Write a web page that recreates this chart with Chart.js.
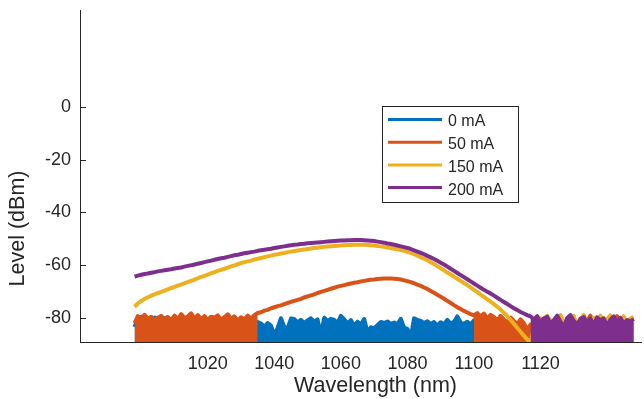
<!DOCTYPE html>
<html>
<head>
<meta charset="utf-8">
<script src="https://cdn.jsdelivr.net/npm/chart.js@4/dist/chart.umd.min.js"></script>
<style>
  html, body { margin: 0; padding: 0; background: #fff; }
</style>
</head>
<body>
<canvas id="spectrum" width="644" height="399"></canvas>
<script>
// Optical spectra at four pump currents, 1 nm sampling
const wavelengths = [
  998, 999, 1000, 1001, 1002, 1003, 1004, 1005, 1006, 1007,
  1008, 1009, 1010, 1011, 1012, 1013, 1014, 1015, 1016, 1017,
  1018, 1019, 1020, 1021, 1022, 1023, 1024, 1025, 1026, 1027,
  1028, 1029, 1030, 1031, 1032, 1033, 1034, 1035, 1036, 1037,
  1038, 1039, 1040, 1041, 1042, 1043, 1044, 1045, 1046, 1047,
  1048, 1049, 1050, 1051, 1052, 1053, 1054, 1055, 1056, 1057,
  1058, 1059, 1060, 1061, 1062, 1063, 1064, 1065, 1066, 1067,
  1068, 1069, 1070, 1071, 1072, 1073, 1074, 1075, 1076, 1077,
  1078, 1079, 1080, 1081, 1082, 1083, 1084, 1085, 1086, 1087,
  1088, 1089, 1090, 1091, 1092, 1093, 1094, 1095, 1096, 1097,
  1098, 1099, 1100, 1101, 1102, 1103, 1104, 1105, 1106, 1107,
  1108, 1109, 1110, 1111, 1112, 1113, 1114, 1115, 1116, 1117,
  1118, 1119, 1120, 1121, 1122, 1123, 1124, 1125, 1126, 1127,
  1128, 1129, 1130, 1131, 1132, 1133, 1134, 1135, 1136, 1137,
  1138, 1139, 1140, 1141, 1142, 1143, 1144, 1145, 1146, 1147,
  1148
];

const level0mA = [
  -83.5, -80.2, -79.6, -80.8, -80.0, -81.2, -79.9, -80.6, -81.5, -80.3,
  -79.8, -81.0, -80.5, -81.8, -79.4, -80.9, -80.2, -79.5, -81.3, -80.0,
  -80.7, -81.6, -80.4, -81.2, -80.6, -81.9, -81.0, -82.2, -80.8, -81.5,
  -82.4, -81.0, -81.8, -82.6, -81.4, -81.9, -82.8, -81.6, -82.2, -83.4,
  -82.0, -83.0, -86.5, -83.8, -80.2, -83.5, -84.0, -80.3, -80.5, -81.8,
  -80.8, -82.0, -81.0, -80.2, -81.5, -80.6, -86.5, -80.0, -81.3, -80.4,
  -80.8, -82.0, -79.3, -80.6, -82.2, -80.9, -83.0, -81.5, -82.6, -80.5,
  -85.5, -83.6, -84.0, -82.8, -81.6, -82.0, -81.4, -82.3, -81.8, -82.6,
  -80.4, -83.8, -84.2, -87.5, -80.2, -80.8, -81.2, -82.0, -81.3, -82.4,
  -81.6, -83.0, -81.7, -82.5, -80.8, -82.2, -81.5, -79.5, -81.8, -82.4,
  -81.5, -82.6, -81.0, -82.2, -83.0, -82.4, -83.5, -82.8, -84.0, -83.2,
  -84.4, -83.6, -84.2, -83.0, -84.6, -83.8, -84.0, -83.3, -84.5, -83.7,
  -84.8, -83.9, -84.3, -83.6, -84.9, -84.0, -83.4, -84.7, -83.8, -84.2,
  -83.5, -84.6, -83.9, -84.4, -83.7, -84.8, -84.0, -83.6, -84.5, -83.8,
  -84.2, -83.5, -84.6, -83.9, -84.3, -83.7, -84.8, -84.1, -83.6, -84.4,
  -84.0
];

const level50mA = [
  -82.0, -79.4, -80.2, -78.9, -80.5, -79.6, -80.8, -80.0, -79.3, -80.6,
  -79.8, -80.9, -79.2, -80.4, -78.6, -80.1, -79.5, -78.3, -80.2, -79.0,
  -80.5, -79.4, -80.8, -79.6, -80.0, -79.1, -80.7, -79.7, -78.7, -80.3,
  -79.5, -81.0, -79.8, -80.6, -79.2, -80.4, -79.0, -78.2, -77.9, -77.3,
  -77.0, -76.4, -76.0, -75.6, -75.3, -74.8, -74.4, -74.0, -73.6, -73.2,
  -72.8, -72.3, -71.9, -71.5, -71.1, -70.6, -70.2, -69.8, -69.4, -69.0,
  -68.6, -68.2, -67.9, -67.6, -67.3, -67.0, -66.7, -66.5, -66.2, -66.0,
  -65.8, -65.6, -65.5, -65.3, -65.2, -65.1, -65.1, -65.1, -65.2, -65.3,
  -65.5, -65.8, -66.1, -66.5, -66.9, -67.4, -67.9, -68.5, -69.1, -69.8,
  -70.5, -71.3, -72.0, -72.8, -73.6, -74.4, -75.2, -76.0, -76.7, -77.4,
  -78.0, -78.6, -79.1, -78.2, -79.6, -78.4, -80.2, -78.9, -79.7, -81.0,
  -79.3, -80.6, -81.8, -79.9, -81.2, -82.4, -80.6, -82.0, -84.5, -82.6,
  -81.8, -82.9, -81.4, -83.0, -81.7, -82.5, -81.9, -83.2, -82.0, -81.6,
  -82.8, -81.5, -82.7, -81.8, -83.1, -82.2, -81.3, -79.2, -82.6, -81.9,
  -82.8, -81.6, -82.4, -83.0, -81.7, -79.4, -82.5, -81.8, -82.9, -82.1,
  -82.6
];

const level150mA = [
  -75.8, -74.6, -73.6, -72.9, -72.2, -71.6, -71.1, -70.6, -70.2, -69.7,
  -69.2, -68.7, -68.3, -67.8, -67.4, -66.9, -66.5, -66.0, -65.5, -65.0,
  -64.5, -64.1, -63.6, -63.1, -62.7, -62.2, -61.8, -61.4, -61.0, -60.5,
  -60.1, -59.7, -59.3, -58.9, -58.6, -58.3, -57.9, -57.6, -57.3, -57.0,
  -56.7, -56.4, -56.1, -55.9, -55.6, -55.4, -55.1, -54.9, -54.7, -54.5,
  -54.3, -54.1, -53.9, -53.7, -53.5, -53.4, -53.2, -53.1, -53.0, -52.9,
  -52.8, -52.7, -52.6, -52.5, -52.4, -52.4, -52.3, -52.3, -52.3, -52.3,
  -52.4, -52.5, -52.6, -52.8, -52.9, -53.1, -53.3, -53.5, -53.8, -54.0,
  -54.3, -54.6, -55.0, -55.4, -55.9, -56.4, -57.0, -57.6, -58.2, -58.9,
  -59.6, -60.4, -61.2, -62.0, -62.8, -63.6, -64.4, -65.2, -66.0, -66.8,
  -67.6, -68.5, -69.4, -70.3, -71.2, -72.1, -73.0, -73.9, -74.8, -75.8,
  -76.9, -78.1, -79.4, -80.8, -82.3, -83.8, -85.3, -86.8, -88.2, -89.5,
  -84.0, -81.5, -80.2, -82.8, -79.4, -81.0, -83.2, -80.6, -79.0, -82.1,
  -81.3, -80.4, -79.3, -83.5, -80.9, -78.9, -82.4, -81.2, -80.0, -82.9,
  -79.2, -81.7, -80.5, -79.1, -82.3, -80.8, -81.9, -79.4, -82.6, -80.3,
  -79.8
];

const level200mA = [
  -64.4, -64.0, -63.7, -63.4, -63.2, -62.9, -62.7, -62.4, -62.2, -62.0,
  -61.8, -61.6, -61.3, -61.1, -60.9, -60.6, -60.3, -60.1, -59.8, -59.5,
  -59.2, -58.9, -58.6, -58.3, -58.0, -57.7, -57.4, -57.2, -56.9, -56.6,
  -56.3, -56.1, -55.8, -55.5, -55.3, -55.1, -54.9, -54.6, -54.4, -54.2,
  -54.0, -53.8, -53.5, -53.3, -53.1, -52.9, -52.7, -52.5, -52.3, -52.2,
  -52.0, -51.9, -51.7, -51.6, -51.5, -51.4, -51.3, -51.2, -51.1, -51.0,
  -50.9, -50.8, -50.7, -50.7, -50.6, -50.6, -50.5, -50.5, -50.5, -50.6,
  -50.7, -50.8, -50.9, -51.1, -51.3, -51.5, -51.8, -52.0, -52.3, -52.6,
  -52.9, -53.2, -53.5, -53.9, -54.4, -54.9, -55.4, -55.9, -56.5, -57.1,
  -57.7, -58.4, -59.1, -59.8, -60.6, -61.4, -62.2, -63.0, -63.8, -64.6,
  -65.4, -66.2, -67.0, -67.8, -68.6, -69.4, -70.1, -70.8, -71.6, -72.4,
  -73.2, -74.0, -74.8, -75.6, -76.4, -77.1, -77.8, -78.4, -79.0, -79.5,
  -80.6, -79.4, -81.8, -80.2, -79.6, -82.4, -80.8, -79.2, -81.5, -83.6,
  -80.1, -79.0, -81.2, -82.6, -80.4, -79.7, -81.9, -80.3, -82.8, -79.8,
  -81.0, -80.2, -83.1, -80.7, -79.5, -81.6, -80.0, -82.2, -80.9, -81.4,
  -80.5
];

// wavelength spans (nm) where each trace sits in the dense noise floor
const noise0mA = [[998, 1148]];
const noise50mA = [[998, 1035], [1100, 1148]];
const noise150mA = [[1117, 1148]];
const noise200mA = [[1117, 1148]];

const seriesLabels = ['0 mA', '50 mA', '150 mA', '200 mA'];
const seriesColors = ['#0072BD', '#D95319', '#EDB120', '#7E2F8E'];
const xTicks = [1020, 1040, 1060, 1080, 1100, 1120];
const yTicks = [0, -20, -40, -60, -80];

const FONT = '"Liberation Sans", Arial, Helvetica, sans-serif';
const INK = '#262626';

const seriesLevels = [level0mA, level50mA, level150mA, level200mA];
const seriesNoise = [noise0mA, noise50mA, noise150mA, noise200mA];

const datasets = [];
seriesLabels.forEach((label, s) => {
    const levels = seriesLevels[s];
    const inNoise = w => seriesNoise[s].some(([a, b]) => w >= a && w <= b);
    datasets.push({
        label: label,
        data: wavelengths.map((w, i) => ({ x: w, y: levels[i] })),
        borderColor: seriesColors[s],
        borderWidth: 4,
        borderJoinStyle: 'round',
        pointRadius: 0,
        fill: false,
        clip: 0,
        order: 10 * (4 - s)
    });
    // noise floor: the real trace is too dense to resolve, so fill under its peaks
    datasets.push({
        label: label + ' floor',
        data: wavelengths.map((w, i) => ({ x: w, y: inNoise(w) ? levels[i] : null })),
        borderColor: seriesColors[s],
        backgroundColor: seriesColors[s],
        borderWidth: 1.5,
        pointRadius: 0,
        fill: 'start',
        clip: 0,
        order: 10 * (4 - s)
    });
});

const matlabLook = {
    id: 'matlabLook',
    beforeDatasetsDraw(chart) {
        const { ctx, chartArea: a, scales: { x, y } } = chart;
        ctx.save();
        ctx.strokeStyle = INK;
        ctx.lineWidth = 1;
        ctx.beginPath();
        yTicks.forEach(v => {
            const py = Math.round(y.getPixelForValue(v)) + 0.5;
            ctx.moveTo(a.left, py);
            ctx.lineTo(a.left + 6, py);
        });
        xTicks.forEach(v => {
            const px = Math.round(x.getPixelForValue(v)) + 0.5;
            ctx.moveTo(px, a.bottom);
            ctx.lineTo(px, a.bottom - 6);
        });
        ctx.stroke();
        ctx.restore();
    },
    afterDraw(chart) {
        const ctx = chart.ctx;
        ctx.save();
        ctx.fillStyle = INK;
        ctx.font = '21.5px ' + FONT;
        ctx.textAlign = 'center';
        ctx.textBaseline = 'middle';
        ctx.fillText('Wavelength (nm)', 375.5, 386);
        ctx.save();
        ctx.translate(18.5, 228.5);
        ctx.rotate(-Math.PI / 2);
        ctx.fillText('Level (dBm)', 0, 0);
        ctx.restore();

        // legend box
        ctx.fillStyle = '#ffffff';
        ctx.fillRect(382.5, 106.5, 136, 96);
        ctx.strokeStyle = INK;
        ctx.lineWidth = 1;
        ctx.strokeRect(382.5, 106.5, 136, 96);
        ctx.font = '16px ' + FONT;
        ctx.textAlign = 'left';
        seriesLabels.forEach((label, s) => {
            const ly = 119.5 + s * 22.7;
            ctx.strokeStyle = seriesColors[s];
            ctx.lineWidth = 3;
            ctx.beginPath();
            ctx.moveTo(388, ly);
            ctx.lineTo(442, ly);
            ctx.stroke();
            ctx.fillStyle = INK;
            ctx.fillText(label, 448, ly + 2.5);
        });
        ctx.restore();
    }
};

new Chart(document.getElementById('spectrum').getContext('2d'), {
    type: 'line',
    data: { datasets: datasets },
    options: {
        responsive: false,
        animation: false,
        devicePixelRatio: 1,
        layout: { padding: { top: 10, right: 3, left: 0, bottom: 0 } },
        plugins: {
            legend: { display: false },
            tooltip: { enabled: false }
        },
        scales: {
            x: {
                type: 'linear',
                min: 981.6,
                max: 1150.2,
                afterBuildTicks: axis => { axis.ticks = xTicks.map(v => ({ value: v })); },
                afterFit: axis => {
                    axis.height = 57;
                    axis.paddingLeft = 0;
                    axis.paddingRight = 0;
                },
                ticks: {
                    color: INK,
                    font: { family: FONT, size: 18 },
                    padding: 11,
                    maxRotation: 0,
                    autoSkip: false,
                    callback: v => String(v)
                },
                grid: { display: true, drawOnChartArea: false, drawTicks: false },
                border: { display: true, color: INK, width: 1 }
            },
            y: {
                type: 'linear',
                min: -89.2,
                max: 36.8,
                afterBuildTicks: axis => { axis.ticks = yTicks.map(v => ({ value: v })); },
                afterFit: axis => {
                    axis.width = 80;
                    axis.paddingTop = 0;
                    axis.paddingBottom = 0;
                },
                ticks: {
                    color: INK,
                    font: { family: FONT, size: 18 },
                    padding: 9,
                    autoSkip: false,
                    callback: v => String(v)
                },
                grid: { display: true, drawOnChartArea: false, drawTicks: false },
                border: { display: true, color: INK, width: 1 }
            }
        }
    },
    plugins: [matlabLook]
});
</script>
</body>
</html>
